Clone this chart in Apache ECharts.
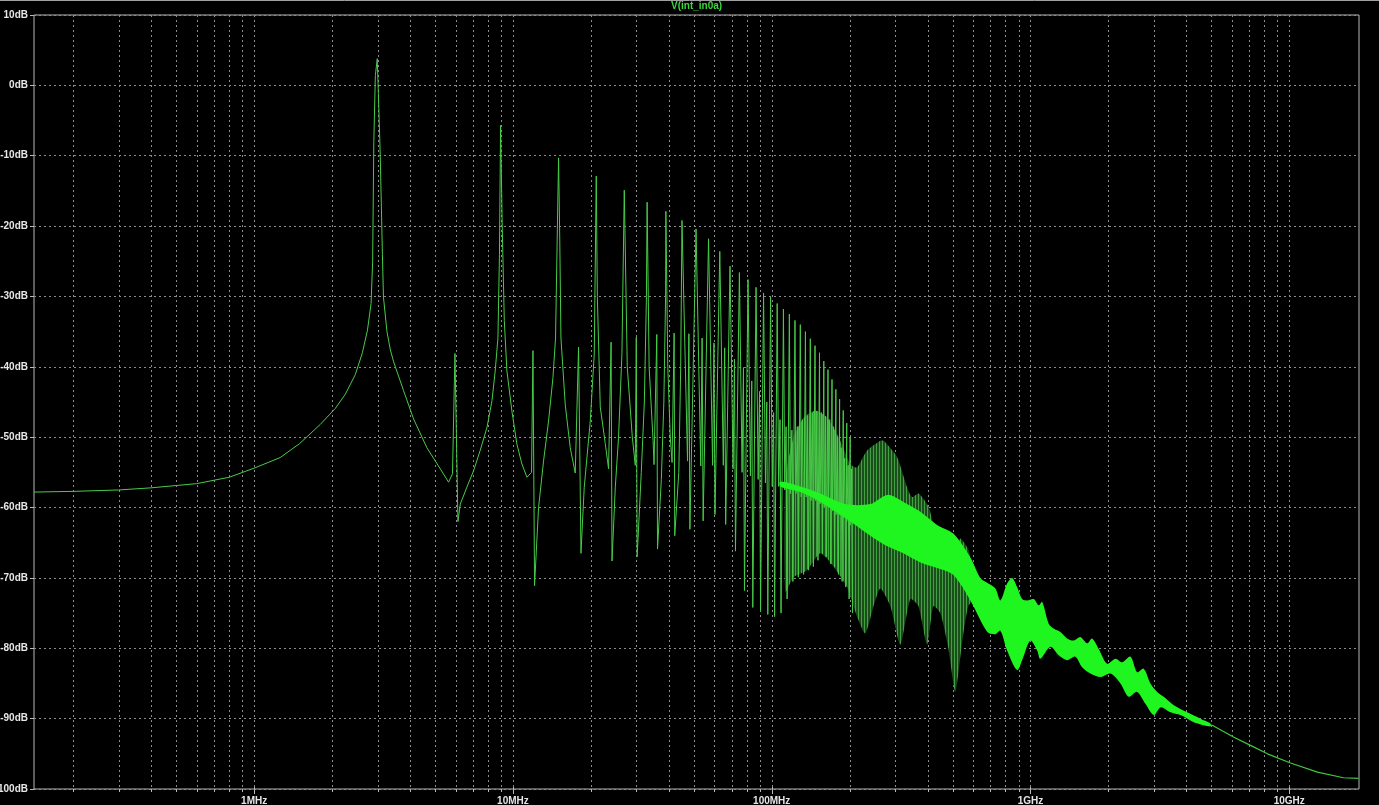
<!DOCTYPE html>
<html>
<head>
<meta charset="utf-8">
<script src="https://cdn.jsdelivr.net/npm/echarts@6/dist/echarts.min.js"></script>
<style>
html,body{margin:0;padding:0;background:#000;}
#chart{width:1379px;height:805px;}
</style>
</head>
<body>
<div id="chart"></div>
<script>
// ---------------- data (frequencies in MHz, levels in dB) ----------------
const traceName = 'V(int_in0a)';
const yTicks = [10, 0, -10, -20, -30, -40, -50, -60, -70, -80, -90, -100];
const xDecades = [1e6, 1e7, 1e8, 1e9, 1e10];
const xDecadeLabels = ['1MHz', '10MHz', '100MHz', '1GHz', '10GHz'];
const gridDecadeStarts = [1e5, 1e6, 1e7, 1e8, 1e9, 1e10];
const gridMultipliers = [1, 2, 3, 4, 5, 6, 7, 8, 9];
const X_MIN = 1.41e5, X_MAX = 1.86e10;

// detailed low-frequency part of the trace
const lowF = [0.141, 0.2, 0.3, 0.4, 0.6, 0.8, 1.0, 1.26, 1.5, 1.8, 2.06, 2.25, 2.46, 2.62, 2.74, 2.83, 2.87, 2.90, 2.94, 2.99,
  3.02, 3.07, 3.13, 3.16, 3.26, 3.36, 3.46, 3.78, 4.13, 4.65, 5.24, 5.64, 5.84, 5.97, 6.13, 6.26, 6.64, 7.04, 7.47, 7.94,
  8.30, 8.54, 8.75, 8.87, 8.96, 9.09, 9.26, 9.48, 9.91, 10.36, 10.83, 11.33, 11.80, 11.95, 12.12, 12.56, 13.13, 13.73,
  14.28, 14.61, 14.87, 15.01, 15.17, 15.33, 15.93, 16.65, 17.41, 17.72, 17.93, 18.32, 18.86, 19.9, 20.62, 20.99,
  21.19, 21.75, 22.74, 23.42, 23.95, 24.15, 24.86, 25.59, 26.38, 26.93, 27.66, 28.93, 29.7, 29.97, 30.2, 31.33,
  32.2, 32.8, 33.0, 33.6, 34.8, 35.1, 35.97, 36.2, 37.45, 38.3, 38.9, 39.0, 39.67, 40.55, 41.2, 41.97, 42.2, 43.75, 44.5];
const lowDb = [-57.8, -57.7, -57.5, -57.2, -56.6, -55.7, -54.4, -52.9, -50.9, -48.2, -45.9, -43.9, -41.1, -38.0, -34.8, -31.0, -25.0, -8.0, 1.4, 3.8,
  -1.2, -9.8, -24.0, -30.1, -35.0, -37.6, -39.3, -43.4, -47.4, -51.5, -54.5, -56.4, -55.2, -38.1, -62.0, -59.5, -57.1, -54.8, -51.9, -48.6,
  -44.8, -40.6, -35.9, -24.0, -5.7, -20.0, -33.4, -40.6, -46.3, -51.0, -53.8, -55.7, -55.0, -37.7, -71.1, -60.0, -53.4, -47.7,
  -41.5, -35.9, -19.0, -10.3, -22.0, -35.9, -45.4, -51.5, -55.1, -55.3, -37.2, -66.5, -57.1, -47.7, -38.2, -12.9,
  -30.0, -45.7, -50.9, -54.5, -36.5, -67.6, -57.2, -50.0, -38.1, -14.9, -40.0, -50.0, -54.0, -35.8, -67.0, -55.0,
  -45.0, -30.0, -16.6, -40.0, -50.5, -53.9, -35.4, -65.9, -56.0, -45.0, -30.0, -17.9, -40.0, -50.0, -53.6, -35.2, -64.0, -55.0, -40.0];

// resonance cycles: odd-harmonic peak, then trough / spike / dip at the next even harmonic
const cycPeakF = [45, 51, 57, 63, 69, 75, 81, 87, 93, 99, 105, 111, 117, 123, 129, 135, 141, 147, 153, 159, 165, 171, 177, 183, 189, 195, 201];
const cycPeakDb = [-19.2, -20.4, -21.8, -23.6, -25.7, -26.6, -27.6, -28.7, -29.5, -30.1, -31.0, -31.8, -32.5, -33.4, -34.0, -35.0, -36.0, -37.0, -38.0, -39.2, -40.4, -41.8, -43.2, -44.6, -46.2, -48.0, -50.0];
const cycEvenF = [48, 54, 60, 66, 72, 78, 84, 90, 96, 102, 108, 114, 120, 126, 132, 138, 144, 150, 156, 162, 168, 174, 180, 186, 192, 198, 204];
const cycTroughDb = [-53.4, -54.1, -54.0, -54.0, -54.5, -55.0, -55.5, -56.0, -56.5, -57.0, -57.0, -57.5, -58.0, -58.0, -58.5, -58.5, -59.0, -59.0, -59.5, -60.0, -60.0, -60.5, -61.0, -61.0, -61.5, -62.0, -62.5];
const cycSpikeDb = [-35.3, -35.9, -36.6, -37.3, -38.9, -40.1, -42.0, -43.5, -45.0, -46.5, -47.5, -48.5, -49.0, -48.5, -47.5, -47.0, -46.5, -46.3, -46.5, -47.0, -47.5, -48.5, -50.0, -51.5, -53.0, -54.0, -54.5];
const cycDipDb = [-63.1, -61.9, -61.0, -62.4, -66.2, -71.8, -74.2, -74.7, -75.2, -75.5, -75.0, -73.0, -70.5, -69.9, -69.5, -68.9, -68.4, -67.5, -66.5, -67.0, -68.0, -68.4, -69.5, -70.5, -71.3, -73.0, -75.0];

// dense resonance region (lobed envelope of closely spaced lines)
const lobeTopF = [112.9, 121.5, 132.9, 147.4, 163.6, 181.4, 201.3, 213.6, 233.5, 262.9, 270.8, 305.1, 333.4, 348.6, 369.8, 404.2, 422.6, 455.3, 490.1, 512.4, 535.8, 576.9, 603.1, 640];
const lobeTopDb = [-56.0, -50.0, -47.2, -46.2, -47.2, -50.0, -53.8, -54.3, -51.9, -50.5, -50.5, -52.8, -57.1, -58.5, -58.0, -59.9, -62.4, -63.5, -65.2, -65.6, -64.4, -66.1, -71.3, -72.0];
const lobeBotF = [112.9, 121.5, 136.9, 154.2, 173.5, 195.5, 213.6, 230.0, 247.7, 262.9, 287.3, 314.1, 343.4, 368.8, 398.5, 421.5, 448.5, 481.5, 512.4, 545.3, 575.4, 612.2, 640];
const lobeBotDb = [-72.0, -69.9, -68.9, -66.5, -68.4, -71.3, -75.5, -77.9, -74.0, -71.5, -74.0, -79.5, -73.0, -74.0, -79.5, -74.0, -75.0, -80.0, -86.2, -79.0, -74.0, -73.0, -74.0];

// bright, completely filled core of the trace (upper and lower edge)
const coreTopF = [108, 129, 154.2, 192.5, 240.5, 279.9, 322.6, 375.4, 436.8, 503.5, 585.8, 640, 687.6, 731.6, 764.9, 812.1, 849.2, 887.9, 928.2, 970.3,
  1029, 1076, 1109, 1176, 1229, 1305, 1385, 1469, 1559, 1655, 1730, 1835, 1978, 2129, 2260, 2434, 2583, 2739, 2908, 3087, 3273, 3578, 4032, 4537, 4960];
const coreTopDb = [-56.3, -57.0, -58.0, -59.5, -59.5, -58.2, -59.2, -60.6, -62.5, -63.7, -67.1, -70.0, -70.8, -71.5, -73.2, -70.8, -70.0, -71.3, -73.0, -73.2,
  -73.0, -73.9, -73.4, -76.5, -77.2, -77.7, -78.6, -78.9, -78.4, -79.3, -78.6, -80.1, -82.2, -81.5, -82.0, -81.2, -83.4, -82.9, -85.0, -86.2, -86.9, -88.1, -89.1, -90.0, -90.7];
const coreBotF = [108, 129, 154.2, 192.5, 240.5, 279.9, 322.6, 375.4, 436.8, 503.5, 585.8, 681.5, 731.6, 764.9, 812.1, 887.9, 928.2, 999, 1061, 1092,
  1194, 1285, 1385, 1491, 1583, 1704, 1863, 2036, 2226, 2397, 2583, 2781, 2995, 3178, 3474, 3797, 4275, 4960];
const coreBotDb = [-57.0, -57.8, -59.2, -61.5, -64.0, -65.5, -66.5, -67.8, -68.6, -69.6, -73.2, -77.7, -78.0, -77.5, -80.3, -83.1, -81.7, -78.9, -80.3, -81.5,
  -79.8, -81.0, -81.7, -81.2, -82.7, -83.6, -84.1, -83.6, -85.0, -86.9, -86.2, -87.9, -89.5, -88.4, -89.1, -89.5, -90.5, -91.1];

// smooth high-frequency tail
const tailF = [4960, 5080, 6086, 7080, 8237, 10110, 12850, 16200, 18510];
const tailDb = [-90.9, -91.0, -92.6, -93.8, -95.0, -96.3, -97.6, -98.4, -98.5];

// ---------------- build ----------------
const MHz = 1e6;
const mainData = [];
lowF.forEach((f, i) => mainData.push([f * MHz, lowDb[i]]));
cycPeakF.forEach((f, i) => {
  const e = cycEvenF[i] * MHz;
  mainData.push([f * MHz, cycPeakDb[i]]);
  mainData.push([e * 0.985, cycTroughDb[i]]);
  mainData.push([e * 0.997, cycSpikeDb[i]]);
  mainData.push([e * 1.006, cycDipDb[i]]);
});
const tailData = tailF.map((f, i) => [f * MHz, tailDb[i]]);

const gridFreqs = [];
gridDecadeStarts.forEach(d => gridMultipliers.forEach(m => {
  const f = d * m;
  if (f > X_MIN * 1.001 && f < X_MAX * 0.999) gridFreqs.push(f);
}));

// stripe pattern for the dense line region
const pc = document.createElement('canvas');
pc.width = 3; pc.height = 2;
const pctx = pc.getContext('2d');
pctx.fillStyle = 'rgb(26,78,26)'; pctx.fillRect(0, 0, 3, 2);
pctx.fillStyle = 'rgb(66,160,66)'; pctx.fillRect(0, 0, 1, 2);
const stripePattern = { image: pc, repeat: 'repeat' };

function bandSeries(name, topF, topDb, botF, botDb, fill, z, smooth) {
  return {
    type: 'custom', name: name, silent: true, z: z, animation: false,
    data: [[topF[0] * MHz, topDb[0]]],
    renderItem: function (params, api) {
      if (params.dataIndex !== 0) return null;
      const pts = [];
      for (let i = 0; i < topF.length; i++) pts.push(api.coord([topF[i] * MHz, topDb[i]]));
      for (let i = botF.length - 1; i >= 0; i--) pts.push(api.coord([botF[i] * MHz, botDb[i]]));
      return { type: 'polygon', shape: { points: pts, smooth: smooth }, style: { fill: fill, stroke: null } };
    }
  };
}

const chart = echarts.init(document.getElementById('chart'), null, { renderer: 'canvas' });
const option = {
  backgroundColor: '#000000',
  animation: false,
  title: {
    text: traceName, left: 671, top: 1, padding: 0,
    textStyle: { color: '#3cd83c', fontSize: 10, fontWeight: 'bold', fontFamily: 'Arial, Liberation Sans' }
  },
  graphic: [{ type: 'line', shape: { x1: 0, y1: 0.5, x2: 1379, y2: 0.5 }, style: { stroke: '#a0a0a0', lineWidth: 1 }, silent: true }],
  grid: {
    left: 34, right: 20, top: 15, bottom: 16, containLabel: false, outerBoundsMode: 'none',
    show: true, borderColor: '#b8b8b8', borderWidth: 1, backgroundColor: 'transparent'
  },
  xAxis: {
    type: 'log', logBase: 10, min: X_MIN, max: X_MAX,
    axisLine: { show: false }, axisTick: { show: false }, splitLine: { show: false },
    axisLabel: {
      show: true, color: '#e6e6e6', fontSize: 10, fontWeight: 'bold', fontFamily: 'Arial, Liberation Sans', margin: 7,
      showMinLabel: true, showMaxLabel: true, hideOverlap: false,
      formatter: function (v) {
        const lv = Math.log10(v);
        const idx = xDecades.findIndex(d => Math.abs(Math.log10(d) - lv) < 1e-6);
        return idx >= 0 ? xDecadeLabels[idx] : '';
      }
    }
  },
  yAxis: {
    type: 'value', min: yTicks[yTicks.length - 1], max: yTicks[0], interval: 10,
    axisLine: { show: false },
    axisTick: { show: true, length: 4, lineStyle: { color: '#b8b8b8' } },
    axisLabel: { color: '#e6e6e6', fontSize: 10, fontWeight: 'bold', fontFamily: 'Arial, Liberation Sans', margin: 6,
      hideOverlap: false, formatter: v => v + 'dB' },
    splitLine: { show: true, lineStyle: { color: '#8c8c8c', type: [2, 3], width: 1 } }
  },
  series: [
    {
      type: 'custom', name: 'grid', silent: true, z: 1, animation: false, clip: false,
      data: gridFreqs.map(f => [f, yTicks[yTicks.length - 1]]),
      renderItem: function (params, api) {
        const f = api.value(0);
        const top = api.coord([f, yTicks[0]]);
        const bot = api.coord([f, yTicks[yTicks.length - 1]]);
        const x = Math.round(top[0]) + 0.5;
        const isDec = xDecades.some(d => Math.abs(Math.log10(d) - Math.log10(f)) < 1e-6);
        return {
          type: 'group', children: [
            { type: 'line', shape: { x1: x, y1: top[1], x2: x, y2: bot[1] }, style: { stroke: '#8c8c8c', lineWidth: 1, lineDash: [2, 3] } },
            { type: 'line', shape: { x1: x, y1: bot[1] - (isDec ? 2 : 0), x2: x, y2: bot[1] + (isDec ? 5 : 3) }, style: { stroke: '#b8b8b8', lineWidth: 1 } }
          ]
        };
      }
    },
    bandSeries('lobes', lobeTopF, lobeTopDb, lobeBotF, lobeBotDb, stripePattern, 2, 0.2),
    {
      type: 'line', name: traceName, data: mainData, showSymbol: false, symbol: 'none', z: 3,
      lineStyle: { color: '#48cc48', width: 1 }, sampling: null, animation: false, silent: true
    },
    bandSeries('core', coreTopF, coreTopDb, coreBotF, coreBotDb, '#1ff51f', 4, 0.3),
    {
      type: 'line', name: traceName + ' tail', data: tailData, showSymbol: false, symbol: 'none', z: 4,
      lineStyle: { color: '#40c840', width: 1.2 }, animation: false, silent: true
    }
  ]
};
chart.setOption(option);
</script>
</body>
</html>
